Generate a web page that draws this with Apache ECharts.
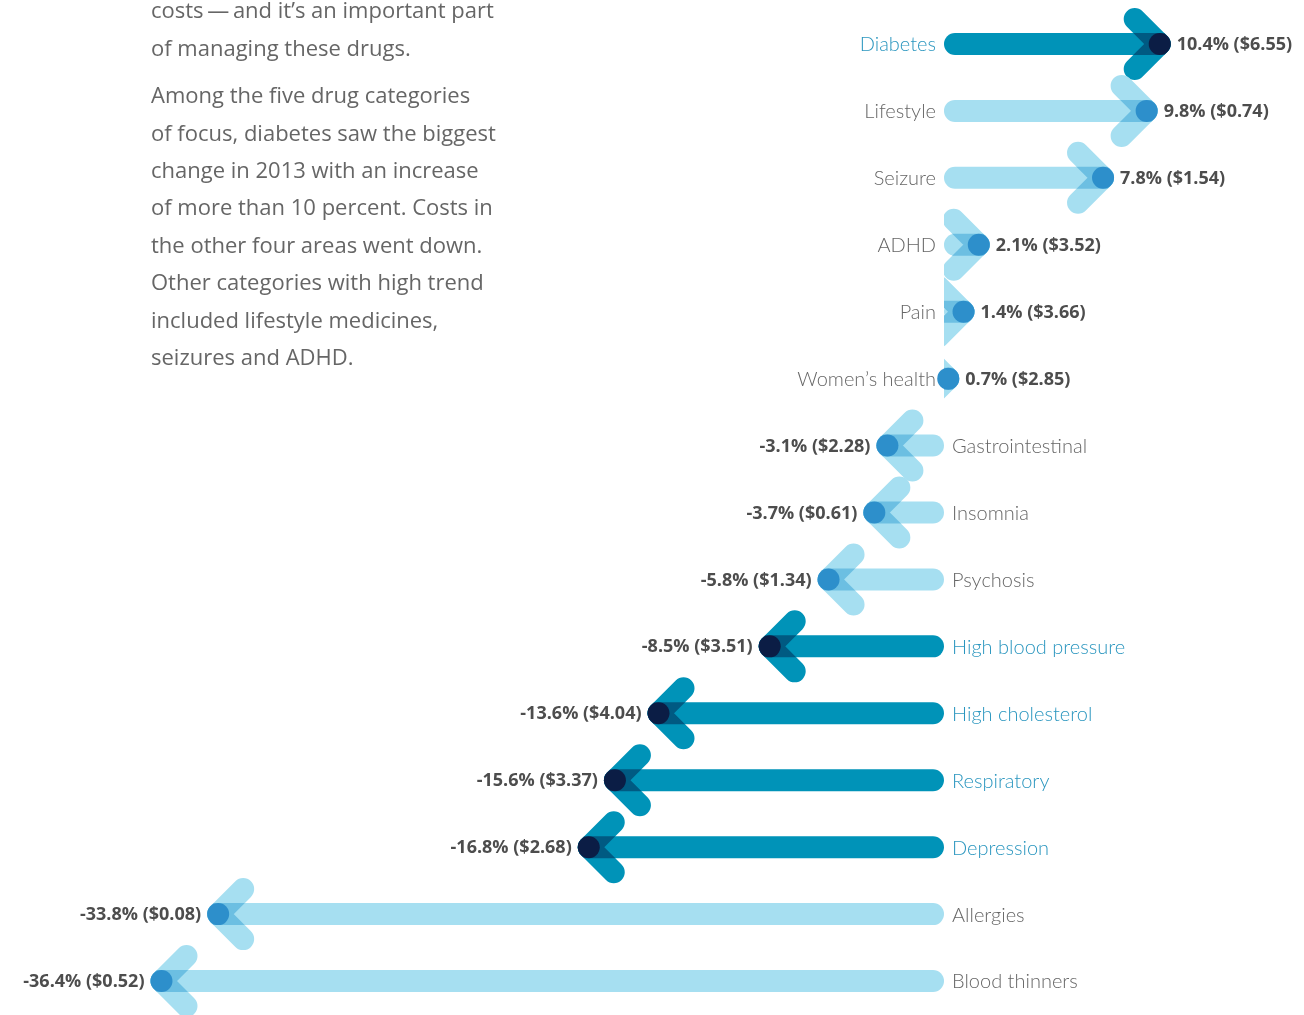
<!DOCTYPE html>
<html>
<head>
<meta charset="utf-8">
<script src="https://cdn.jsdelivr.net/npm/echarts@6/dist/echarts.min.js"></script>
<style>
html,body{margin:0;padding:0;background:#fff;}
#chart{width:1304px;height:1015px;}
</style>
</head>
<body>
<div id="chart"></div>
<script>
// ---- data ----
const categories = ['Diabetes','Lifestyle','Seizure','ADHD','Pain','Women\u2019s health','Gastrointestinal','Insomnia','Psychosis','High blood pressure','High cholesterol','Respiratory','Depression','Allergies','Blood thinners'];
const trendPct = [10.4, 9.8, 7.8, 2.1, 1.4, 0.7, -3.1, -3.7, -5.8, -8.5, -13.6, -15.6, -16.8, -33.8, -36.4];
const costChange = ['6.55','0.74','1.54','3.52','3.66','2.85','2.28','0.61','1.34','3.51','4.04','3.37','2.68','0.08','0.52'];
const focusCategory = [true,false,false,false,false,false,false,false,false,true,true,true,true,false,false];
const paragraph1 = ['costs\u2009\u2014\u2009and it\u2019s an important part','of managing these drugs.'];
const paragraph2 = ['Among the five drug categories','of focus, diabetes saw the biggest','change in 2013 with an increase','of more than 10 percent. Costs in','the other four areas went down.','Other categories with high trend','included lifestyle medicines,','seizures and ADHD.'];

// ---- styles ----
const DARK = {bar:'#0093b8', over:'#005a82', dot:'#0b1d45', text:'#2a96bf'};
const LIGHT = {bar:'#a6dff1', over:'#6cbfe2', dot:'#2d8fcb', text:'#666666'};
const BAR_W = 22, DOT_R = 11, ARM = 25;

const seriesData = trendPct.map((v, i) => [v, i, focusCategory[i] ? 1 : 0]);

function renderItem(params, api) {
  const v = api.value(0), idx = api.value(1), focus = api.value(2) === 1;
  const cost = costChange[idx];
  const pal = focus ? DARK : LIGHT;
  const dir = v >= 0 ? 1 : -1;
  const p0 = api.coord([0, idx]);
  const pv = api.coord([v, idx]);
  const x0 = p0[0], y = p0[1];
  const x1 = pv[0] - dir * DOT_R;
  const startLen = Math.min(DOT_R, Math.abs(x1 - x0));
  const xs = x0 + dir * startLen;
  const W = api.getWidth(), H = api.getHeight();
  const clip = dir > 0 ? {x: x0, y: 0, width: W - x0, height: H} : {x: 0, y: 0, width: x0, height: H};
  const strip = dir > 0 ? {x: x0, y: y - BAR_W / 2, width: W - x0, height: BAR_W} : {x: 0, y: y - BAR_W / 2, width: x0, height: BAR_W};
  const chevron = [[x1 - dir * ARM, y - ARM], [x1, y], [x1 - dir * ARM, y + ARM]];
  const label = v.toFixed(1) + '% ($' + cost + ')';
  return {
    type: 'group',
    children: [
      {
        type: 'group',
        clipPath: {type: 'rect', shape: clip},
        children: [
          {type: 'line', shape: {x1: xs, y1: y, x2: x1, y2: y},
           style: {stroke: pal.bar, lineWidth: BAR_W, lineCap: 'round'}},
          {type: 'polyline', shape: {points: chevron},
           style: {stroke: pal.bar, fill: null, lineWidth: BAR_W, lineCap: 'round', lineJoin: 'round'}}
        ]
      },
      {
        type: 'group',
        clipPath: {type: 'rect', shape: strip},
        children: [
          {type: 'polyline', shape: {points: chevron},
           style: {stroke: pal.over, fill: null, lineWidth: BAR_W, lineCap: 'round', lineJoin: 'round'}}
        ]
      },
      {type: 'circle', shape: {cx: x1, cy: y, r: DOT_R}, style: {fill: pal.dot}},
      {type: 'text', style: {x: x1 + dir * (DOT_R + 6), y: y + 1, text: label,
        fill: '#4d4d4d', fontFamily: 'Open Sans', fontWeight: 'bold', fontSize: 18,
        align: dir > 0 ? 'left' : 'right', verticalAlign: 'middle'}},
      {type: 'text', style: {x: x0 - dir * 8, y: y + 1, text: categories[idx],
        fill: pal.text, fontFamily: 'Lato', fontWeight: 300, fontSize: 20,
        align: dir > 0 ? 'right' : 'left', verticalAlign: 'middle'}}
    ]
  };
}

const chart = echarts.init(document.getElementById('chart'), null, {renderer: 'canvas'});
chart.setOption({
  animation: false,
  backgroundColor: '#ffffff',
  grid: {left: 72, width: 1220.8, top: 10.5, height: 1004, containLabel: false},
  xAxis: {type: 'value', min: -40, max: 16, show: false},
  yAxis: {type: 'category', data: categories, inverse: true, show: false},
  graphic: [
    {type: 'text', x: 151, y: -6.7, style: {text: paragraph1.join('\n'), fontFamily: 'Open Sans', fontSize: 22, fill: '#666666', lineHeight: 37.4, verticalAlign: 'top'}},
    {type: 'text', x: 151, y: 78.3, style: {text: paragraph2.join('\n'), fontFamily: 'Open Sans', fontSize: 22, fill: '#666666', lineHeight: 37.4, verticalAlign: 'top'}}
  ],
  series: [{
    type: 'custom',
    renderItem: renderItem,
    data: seriesData,
    encode: {x: 0, y: 1},
    clip: false
  }]
});
</script>
</body>
</html>
